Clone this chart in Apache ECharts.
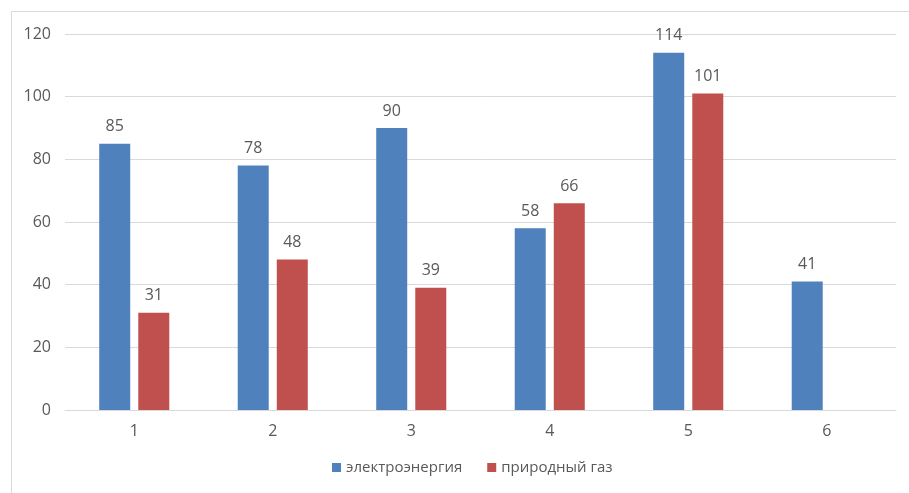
<!DOCTYPE html>
<html>
<head>
<meta charset="utf-8">
<script src="https://cdn.jsdelivr.net/npm/echarts@6/dist/echarts.min.js"></script>
<style>html,body{margin:0;padding:0;background:#fff}#c{width:909px;height:493px}</style>
</head>
<body>
<div id="c"></div>
<script>
var categories = ['1', '2', '3', '4', '5', '6'];
var electricity = [85, 78, 90, 58, 114, 41];
var naturalGas = [31, 48, 39, 66, 101, null];
var seriesNames = ['электроэнергия', 'природный газ'];

var chart = echarts.init(document.getElementById('c'), null, {renderer: 'canvas'});
var fontFam = '"Open Sans", "Noto Sans", sans-serif';
var labelStyle = {show: true, position: 'top', distance: 9, color: '#595959', fontSize: 16, fontFamily: fontFam};
chart.setOption({
  animation: false,
  backgroundColor: '#fff',
  graphic: [{
    type: 'rect', shape: {x: 11.5, y: 11.5, width: 920, height: 500},
    style: {fill: 'none', stroke: '#d9d9d9', lineWidth: 1}, silent: true
  }],
  grid: {left: 65, right: 13, top: 34, bottom: 83},
  legend: {
    bottom: 13, left: 327, itemWidth: 9, itemHeight: 9, itemGap: 25, icon: 'rect',
    textStyle: {color: '#595959', fontSize: 15, fontFamily: fontFam},
    data: seriesNames
  },
  xAxis: {
    type: 'category', data: categories,
    axisLine: {lineStyle: {color: '#d9d9d9'}}, axisTick: {show: false},
    axisLabel: {color: '#595959', fontSize: 16, fontFamily: fontFam, margin: 13}
  },
  yAxis: {
    type: 'value', min: 0, max: 120, interval: 20,
    axisLine: {show: false}, axisTick: {show: false},
    splitLine: {lineStyle: {color: '#d9d9d9'}},
    axisLabel: {color: '#595959', fontSize: 16, fontFamily: fontFam, margin: 14}
  },
  series: [
    {name: seriesNames[0], type: 'bar', data: electricity, barWidth: 31, barGap: '26%',
     itemStyle: {color: '#4f81bd'}, label: labelStyle},
    {name: seriesNames[1], type: 'bar', data: naturalGas, barWidth: 31,
     itemStyle: {color: '#c0504d'}, label: labelStyle}
  ]
});
</script>
</body>
</html>
